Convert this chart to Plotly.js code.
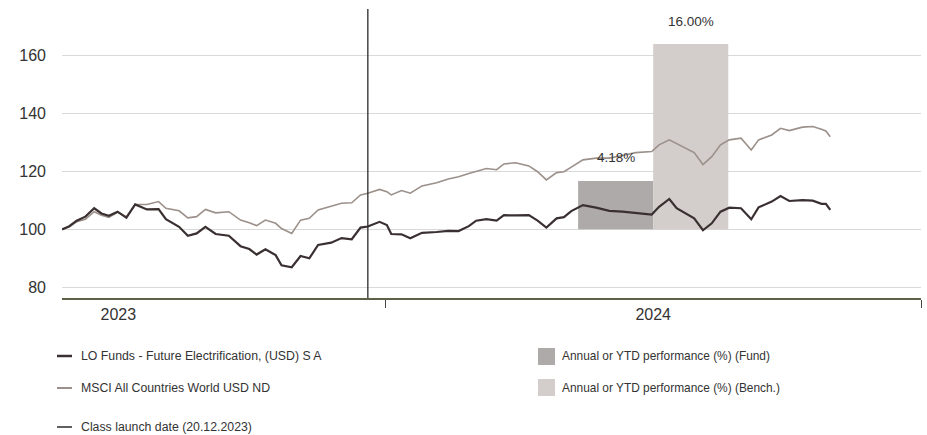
<!DOCTYPE html>
<html>
<head>
<meta charset="utf-8">
<script src="https://cdn.plot.ly/plotly-3.0.1.min.js"></script>
<style>
  html, body { margin: 0; padding: 0; background: #ffffff; }
  #chart { width: 927px; height: 435px; }
</style>
</head>
<body>
<div id="chart"></div>
<script>
// ---- data ----
const dates = [
  '2023-05-25','2023-05-30','2023-06-04','2023-06-10','2023-06-16','2023-06-21','2023-06-26',
  '2023-07-02','2023-07-08','2023-07-14','2023-07-22','2023-07-30','2023-08-04','2023-08-13',
  '2023-08-19','2023-08-25','2023-08-31','2023-09-07','2023-09-16','2023-09-24','2023-09-30',
  '2023-10-05','2023-10-11','2023-10-18','2023-10-22','2023-10-29','2023-11-04','2023-11-10',
  '2023-11-16','2023-11-25','2023-12-02','2023-12-09','2023-12-15','2023-12-20','2023-12-28',
  '2024-01-02','2024-01-05','2024-01-12','2024-01-18','2024-01-26','2024-02-05','2024-02-13',
  '2024-02-20','2024-02-27','2024-03-03','2024-03-10','2024-03-17','2024-03-22','2024-03-30',
  '2024-04-08','2024-04-14','2024-04-20','2024-04-27','2024-05-02','2024-05-07','2024-05-15',
  '2024-05-24','2024-06-02','2024-06-11','2024-06-20','2024-07-01','2024-07-06','2024-07-13',
  '2024-07-18','2024-07-25','2024-07-30','2024-08-05','2024-08-11','2024-08-17','2024-08-23',
  '2024-08-31','2024-09-07','2024-09-12','2024-09-21','2024-09-27','2024-10-03','2024-10-12',
  '2024-10-19','2024-10-25','2024-10-28','2024-10-31'
];
const fundValues = [
  100.0,101.1,103.0,104.4,107.3,105.5,104.7,
  106.1,104.0,108.6,106.9,107.0,103.5,100.9,
  97.8,98.6,100.9,98.4,97.8,94.2,93.2,
  91.3,93.1,91.1,87.6,86.9,90.8,90.0,
  94.6,95.4,97.0,96.6,100.6,101.0,102.6,
  101.5,98.4,98.3,96.9,98.8,99.1,99.5,
  99.4,101.1,103.0,103.5,103.0,104.9,104.8,
  104.9,103.0,100.6,103.8,104.2,106.3,108.4,
  107.5,106.4,106.1,105.7,105.1,107.8,110.5,
  107.3,105.3,103.8,99.7,102.1,106.1,107.5,
  107.3,103.5,107.6,109.6,111.5,109.8,110.1,
  109.9,108.8,108.8,106.7
];
const benchValues = [
  100.0,100.9,102.6,103.5,106.1,104.9,104.1,
  105.9,104.4,108.6,108.6,109.6,107.3,106.4,
  104.0,104.4,106.9,105.7,106.1,103.2,102.3,
  101.3,103.2,102.1,100.3,98.6,103.2,103.8,
  106.7,108.1,109.0,109.2,111.9,112.5,113.8,
  113.0,111.9,113.4,112.5,115.0,116.1,117.4,
  118.2,119.3,119.9,121.0,120.6,122.6,123.0,
  121.9,119.9,117.1,119.6,119.9,121.5,124.0,
  124.6,124.6,125.5,126.5,126.9,129.2,130.9,
  129.6,127.8,126.5,122.4,125.1,129.2,130.9,
  131.5,127.4,130.9,132.6,134.9,134.1,135.3,
  135.5,134.6,134.0,132.0
];
const perfYear = ['2024-07-02'];
const perfFund = [4.18];
const perfBench = [16.00];
const launchDate = ['2023-12-20'];
const yTicks = [80, 100, 120, 140, 160];
const seriesNames = ['LO Funds - Future Electrification, (USD) S A', 'MSCI All Countries World USD ND'];
const barNames = ['Annual or YTD performance (%) (Fund)', 'Annual or YTD performance (%) (Bench.)'];
const launchLabel = 'Class launch date (20.12.2023)';

// ---- style ----
const FONT = '"Liberation Sans Narrow", "Liberation Sans", Arial, sans-serif';
const TXT = '#333333';
const C_FUND = '#3a3031';
const C_BENCH = '#9b908a';
const C_BAR_FUND = '#adaaa9';
const C_BAR_BENCH = '#d3cecb';
const BAR_W = 51.3 * 86400000;

const traces = [
  { type: 'bar', x: perfYear, y: perfFund, width: [BAR_W], offset: [-BAR_W],
    marker: { color: C_BAR_FUND }, name: barNames[0], showlegend: false,
    xaxis: 'x', yaxis: 'y', hoverinfo: 'skip' },
  { type: 'bar', x: perfYear, y: perfBench, width: [BAR_W], offset: [0],
    marker: { color: C_BAR_BENCH }, name: barNames[1], showlegend: false,
    xaxis: 'x', yaxis: 'y', hoverinfo: 'skip' },
  { type: 'scatter', mode: 'lines', x: dates, y: benchValues, name: seriesNames[1],
    line: { color: C_BENCH, width: 1.6 }, xaxis: 'x', yaxis: 'y2', showlegend: false },
  { type: 'scatter', mode: 'lines', x: dates, y: fundValues, name: seriesNames[0],
    line: { color: C_FUND, width: 2.2 }, xaxis: 'x', yaxis: 'y2', showlegend: false }
];

// paper helpers (plot area: x 62..921, y 9..298)
const PL = 62, PW = 859, PT = 9, PH = 289;
const px = v => (v - PL) / PW;
const py = v => (PT + PH - v) / PH;

const shapes = [
  { type: 'line', xref: 'x', yref: 'paper', x0: launchDate[0], x1: launchDate[0], y0: 0, y1: 1,
    line: { color: '#2b2b2b', width: 1.3 } },
  // legend symbols
  { type: 'line', xref: 'paper', yref: 'paper', x0: px(57), x1: px(72), y0: py(356), y1: py(356),
    line: { color: C_FUND, width: 2.5 } },
  { type: 'line', xref: 'paper', yref: 'paper', x0: px(57), x1: px(72), y0: py(388), y1: py(388),
    line: { color: C_BENCH, width: 2 } },
  { type: 'line', xref: 'paper', yref: 'paper', x0: px(57), x1: px(72), y0: py(427), y1: py(427),
    line: { color: '#2b2b2b', width: 1.5 } },
  { type: 'rect', xref: 'paper', yref: 'paper', x0: px(538), x1: px(555), y0: py(348), y1: py(365),
    line: { width: 0 }, fillcolor: C_BAR_FUND },
  { type: 'rect', xref: 'paper', yref: 'paper', x0: px(538), x1: px(555), y0: py(379), y1: py(396),
    line: { width: 0 }, fillcolor: C_BAR_BENCH }
];

const legFont = { family: FONT, size: 12.3, color: TXT };
const legFontR = { family: FONT, size: 11.9, color: TXT };
const annotations = [
  { xref: 'x', yref: 'y', x: perfYear[0], y: perfFund[0], xshift: -37.5, yshift: 23,
    text: perfFund[0].toFixed(2) + '%', showarrow: false, font: { family: FONT, size: 13.5, color: TXT } },
  { xref: 'x', yref: 'y', x: perfYear[0], y: perfBench[0], xshift: 37.5, yshift: 23,
    text: perfBench[0].toFixed(2) + '%', showarrow: false, font: { family: FONT, size: 13.5, color: TXT } },
  { xref: 'paper', yref: 'paper', x: px(79), y: py(356), xanchor: 'left', yanchor: 'middle',
    text: seriesNames[0], showarrow: false, font: legFont },
  { xref: 'paper', yref: 'paper', x: px(79), y: py(388), xanchor: 'left', yanchor: 'middle',
    text: seriesNames[1], showarrow: false, font: legFont },
  { xref: 'paper', yref: 'paper', x: px(79), y: py(427), xanchor: 'left', yanchor: 'middle',
    text: launchLabel, showarrow: false, font: legFont },
  { xref: 'paper', yref: 'paper', x: px(560), y: py(356.5), xanchor: 'left', yanchor: 'middle',
    text: barNames[0], showarrow: false, font: legFontR },
  { xref: 'paper', yref: 'paper', x: px(560), y: py(387.5), xanchor: 'left', yanchor: 'middle',
    text: barNames[1], showarrow: false, font: legFontR }
];

const layout = {
  width: 927, height: 435,
  margin: { l: PL, r: 927 - PL - PW, t: PT, b: 435 - PT - PH, pad: 0 },
  paper_bgcolor: '#ffffff', plot_bgcolor: '#ffffff',
  showlegend: false,
  barmode: 'overlay',
  font: { family: FONT, size: 16, color: TXT },
  xaxis: {
    type: 'date',
    range: ['2023-05-25', '2025-01-01'],
    tick0: '2023-01-01', dtick: 'M12',
    ticklabelmode: 'period', tickformat: '%Y',
    ticks: 'outside', ticklen: 8, tickwidth: 1, tickcolor: '#444444',
    ticklabelstandoff: -7,
    showline: true, linecolor: '#5e6249', linewidth: 2,
    showgrid: false, zeroline: false,
    tickfont: { family: FONT, size: 16, color: TXT }
  },
  yaxis: {
    range: [-5.925, 19.025],
    visible: false, showgrid: false, zeroline: false, fixedrange: true
  },
  yaxis2: {
    overlaying: 'y', side: 'left',
    range: [76.3, 176.1],
    tickvals: yTicks,
    showgrid: true, gridcolor: '#d9d9d9', gridwidth: 1.5,
    zeroline: false, showline: false, ticks: '',
    ticklabelstandoff: 15,
    tickfont: { family: FONT, size: 16, color: TXT }
  },
  shapes: shapes,
  annotations: annotations
};

Plotly.newPlot('chart', traces, layout, { displayModeBar: false, staticPlot: true });
</script>
</body>
</html>
